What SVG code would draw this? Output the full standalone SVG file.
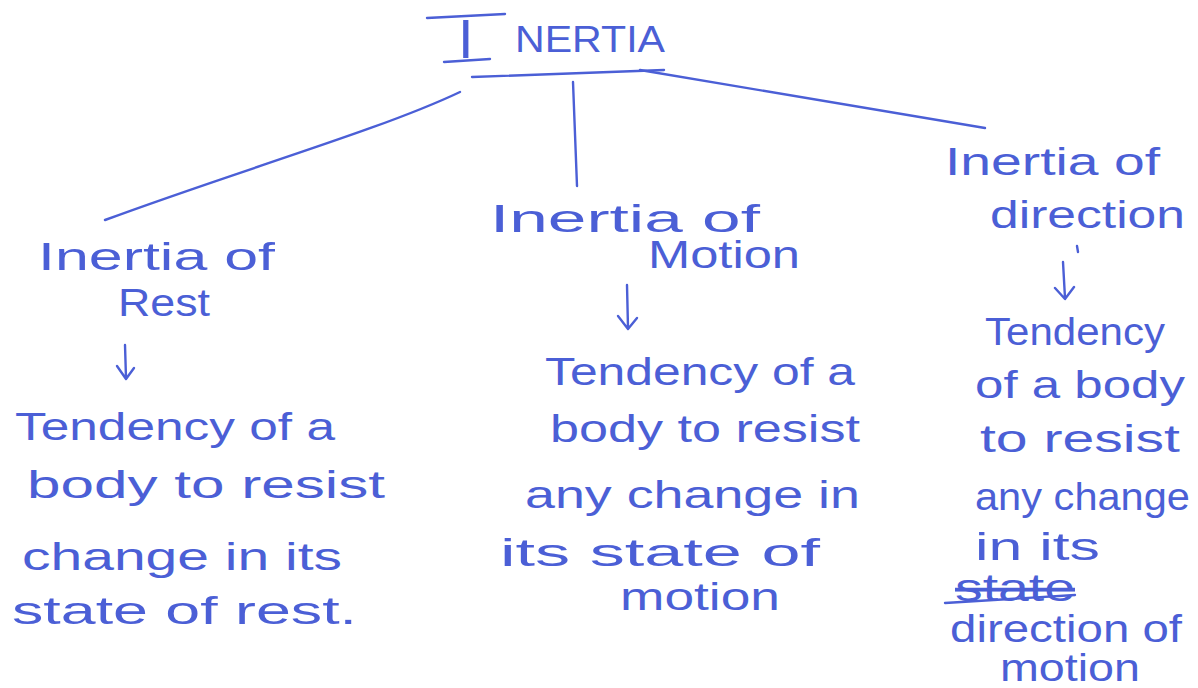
<svg xmlns="http://www.w3.org/2000/svg" width="1198" height="688" viewBox="0 0 1198 688">
<style>
.t{font-family:"Liberation Sans","DejaVu Sans",sans-serif;fill:#4b5fd6;font-size:38px}
.ln{stroke:#4b5fd6;stroke-width:2.4;fill:none;stroke-linecap:round;stroke-linejoin:round}
</style>
<rect width="1198" height="688" fill="#ffffff"/>
<g id="title">
<path class="ln" d="M427,18 L505,14 M444,62 L490,59 M472,77 L664,70"/>
<text class="t" y="55"><tspan x="458" y="58" font-size="56" font-weight="300">I</tspan><tspan x="515" y="52" font-size="36" textLength="150" lengthAdjust="spacingAndGlyphs">NERTIA</tspan></text>
</g>
<g id="connectors">
<path class="ln" d="M460,92 C380,130 240,170 105,220"/>
<path class="ln" d="M573,82 L577,186"/>
<path class="ln" d="M640,70 C760,90 880,110 985,128"/>
<path class="ln" d="M125,345 L126,378 M117,366 L126,379 L134,368"/>
<path class="ln" d="M627,285 L628,328 M618,316 L628,329 L637,318"/>
<path class="ln" d="M1063,262 L1065,298 M1055,288 L1065,299 L1074,287 M1077,246 L1078,252"/>
</g>
<g id="rest">
<text class="t" x="38" y="270" textLength="237" lengthAdjust="spacingAndGlyphs">Inertia of</text>
<text class="t" x="118" y="316" textLength="92" lengthAdjust="spacingAndGlyphs">Rest</text>
<text class="t" x="15" y="440" textLength="320" lengthAdjust="spacingAndGlyphs">Tendency of a</text>
<text class="t" x="27" y="498" textLength="358" lengthAdjust="spacingAndGlyphs">body to resist</text>
<text class="t" x="22" y="570" textLength="320" lengthAdjust="spacingAndGlyphs">change in its</text>
<text class="t" x="12" y="624" textLength="345" lengthAdjust="spacingAndGlyphs">state of rest.</text>
</g>
<g id="motion">
<text class="t" x="490" y="232" textLength="270" lengthAdjust="spacingAndGlyphs">Inertia of</text>
<text class="t" x="648" y="268" textLength="152" lengthAdjust="spacingAndGlyphs">Motion</text>
<text class="t" x="545" y="385" textLength="310" lengthAdjust="spacingAndGlyphs">Tendency of a</text>
<text class="t" x="550" y="442" textLength="310" lengthAdjust="spacingAndGlyphs">body to resist</text>
<text class="t" x="525" y="508" textLength="335" lengthAdjust="spacingAndGlyphs">any change in</text>
<text class="t" x="500" y="566" font-size="34" textLength="320" lengthAdjust="spacingAndGlyphs">its state of</text>
<text class="t" x="620" y="610" font-size="32" textLength="160" lengthAdjust="spacingAndGlyphs">motion</text>
</g>
<g id="direction">
<text class="t" x="945" y="175" textLength="215" lengthAdjust="spacingAndGlyphs">Inertia of</text>
<text class="t" x="990" y="228" textLength="195" lengthAdjust="spacingAndGlyphs">direction</text>
<text class="t" x="985" y="345" font-size="34" textLength="180" lengthAdjust="spacingAndGlyphs">Tendency</text>
<text class="t" x="975" y="398" font-size="34" textLength="210" lengthAdjust="spacingAndGlyphs">of a body</text>
<text class="t" x="980" y="452" font-size="34" textLength="200" lengthAdjust="spacingAndGlyphs">to resist</text>
<text class="t" x="975" y="510" font-size="34" textLength="215" lengthAdjust="spacingAndGlyphs">any change</text>
<text class="t" x="975" y="560" font-size="32" textLength="125" lengthAdjust="spacingAndGlyphs">in its</text>
<text class="t" x="955" y="601" font-size="24" textLength="120" lengthAdjust="spacingAndGlyphs" text-decoration="line-through">state</text>
<path class="ln" d="M945,603 L1075,595"/>
<text class="t" x="950" y="642" font-size="32" textLength="232" lengthAdjust="spacingAndGlyphs">direction of</text>
<text class="t" x="1000" y="681" font-size="32" textLength="140" lengthAdjust="spacingAndGlyphs">motion</text>
</g>
</svg>
